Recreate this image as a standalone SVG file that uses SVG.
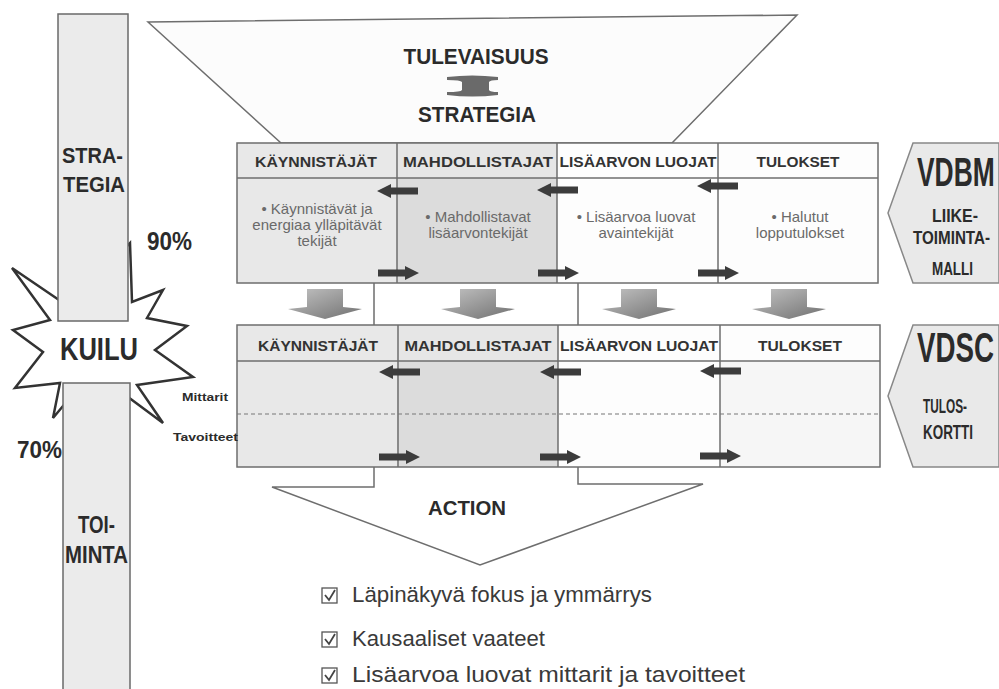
<svg xmlns="http://www.w3.org/2000/svg" width="999" height="689" viewBox="0 0 999 689">
<style>
.b{font-family:"Liberation Sans Narrow","Liberation Sans",Arial,sans-serif;font-weight:bold;fill:#2b2b2b}
.h{font-family:"Liberation Sans",Arial,sans-serif;font-weight:bold;fill:#333;font-size:15px;text-anchor:middle}
.t{font-family:"Liberation Sans",Arial,sans-serif;fill:#6a6a6a;font-size:15px;text-anchor:middle}
.c{font-family:"Liberation Sans",Arial,sans-serif;fill:#3a3a3a;font-size:22px}
.ln{stroke:#6e6e6e;stroke-width:1.5;fill:none}
.ar{fill:#3c3c3c}
.bar{fill:#ebebeb;stroke:#6a6a6a;stroke-width:1.5}
</style>
<defs>
<path id="la" d="M0,0 L14,-7 L14,-3.5 L41,-3.5 L41,3.5 L14,3.5 L14,7 Z"/>
<path id="ra" d="M41,0 L27,-7 L27,-3.5 L0,-3.5 L0,3.5 L27,3.5 L27,7 Z"/>
<linearGradient id="dg" x1="0" y1="0" x2="1" y2="1">
<stop offset="0" stop-color="#c4c4c4"/>
<stop offset="1" stop-color="#6f6f6f"/>
</linearGradient>
<path id="da" d="M-18,0 L18,0 L18,18 L37,20 L0,30 L-37,20 L-18,18 Z"/>
</defs>

<g id="future-funnel">
<polygon points="148,22 797,15 672,143 281,143" fill="#fcfcfc" stroke="#6e6e6e" stroke-width="1.5"/>
<text class="b" x="476" y="64" font-size="22" text-anchor="middle" textLength="145" lengthAdjust="spacingAndGlyphs">TULEVAISUUS</text>
<path d="M447,77 Q472,74 498,77 L498,80 Q490,80 489,82 L489,90 Q490,92 498,92 L498,95 Q472,98 447,95 L447,92 Q461,92 462,90 L462,82 Q461,80 447,80 Z" fill="#6a6a6a"/>
<text class="b" x="477" y="122" font-size="22" text-anchor="middle" textLength="118" lengthAdjust="spacingAndGlyphs">STRATEGIA</text>
</g>

<g id="action-arrow">
<path d="M374,283 L374,487 L272,487 L480,565 L703,484 L578,484 L578,283" fill="#fff" stroke="#6e6e6e" stroke-width="1.5"/>
<text class="b" x="467" y="515" font-size="20" text-anchor="middle" textLength="78" lengthAdjust="spacingAndGlyphs">ACTION</text>
</g>

<g id="kuilu">
<polygon points="12,268 62,302 100,275 130,243 132,302 163,290 147,318 187,326 155,350 193,377 137,385 163,423 128,397 95,440 68,400 53,418 60,383 15,388 43,352 13,330 50,320" fill="#fff" stroke="#333" stroke-width="2.5" stroke-linejoin="miter"/>
</g>

<g id="strategia-bar">
<rect class="bar" x="58" y="14" width="70" height="307"/>
<text class="b" x="62" y="163" font-size="22" textLength="61" lengthAdjust="spacingAndGlyphs">STRA-</text>
<text class="b" x="63" y="192" font-size="22" textLength="62" lengthAdjust="spacingAndGlyphs">TEGIA</text>
</g>

<g id="toiminta-bar">
<rect class="bar" x="63" y="383" width="67" height="310"/>
<text class="b" x="78" y="533" font-size="24" textLength="37" lengthAdjust="spacingAndGlyphs">TOI-</text>
<text class="b" x="65" y="563" font-size="24" textLength="63" lengthAdjust="spacingAndGlyphs">MINTA</text>
</g>

<g id="kuilu-label">
<text class="b" x="60" y="360" font-size="32" textLength="78" lengthAdjust="spacingAndGlyphs">KUILU</text>
<text class="b" x="147" y="250" font-size="26" fill="#3a3a3a" textLength="45" lengthAdjust="spacingAndGlyphs">90%</text>
<text class="b" x="17" y="458" font-size="24" fill="#3a3a3a" textLength="45" lengthAdjust="spacingAndGlyphs">70%</text>
</g>

<g id="vdbm-table">
<rect x="237" y="143" width="160" height="140" fill="#e8e8e8"/>
<rect x="397" y="143" width="160" height="35" fill="#e6e6e6"/>
<rect x="397" y="178" width="160" height="105" fill="#dcdcdc"/>
<rect x="557" y="143" width="321" height="140" fill="#fdfdfd"/>
<rect class="ln" x="237" y="143" width="641" height="140"/>
<line class="ln" x1="237" y1="178" x2="878" y2="178"/>
<line class="ln" x1="397" y1="143" x2="397" y2="283"/>
<line class="ln" x1="557" y1="143" x2="557" y2="283"/>
<line class="ln" x1="718" y1="143" x2="718" y2="283"/>
<text class="h" x="316" y="167" textLength="122" lengthAdjust="spacingAndGlyphs">KÄYNNISTÄJÄT</text>
<text class="h" x="478" y="167" textLength="150" lengthAdjust="spacingAndGlyphs">MAHDOLLISTAJAT</text>
<text class="h" x="638" y="167" textLength="157" lengthAdjust="spacingAndGlyphs">LISÄARVON LUOJAT</text>
<text class="h" x="798" y="167" textLength="83" lengthAdjust="spacingAndGlyphs">TULOKSET</text>
<text class="t" x="317" y="214">• Käynnistävät ja</text>
<text class="t" x="317" y="230">energiaa ylläpitävät</text>
<text class="t" x="317" y="246">tekijät</text>
<text class="t" x="478" y="222">• Mahdollistavat</text>
<text class="t" x="478" y="238">lisäarvontekijät</text>
<text class="t" x="636" y="222">• Lisäarvoa luovat</text>
<text class="t" x="636" y="238">avaintekijät</text>
<text class="t" x="800" y="222">• Halutut</text>
<text class="t" x="800" y="238">lopputulokset</text>
</g>

<g id="vdsc-table">
<rect x="237" y="325" width="160" height="142" fill="#e8e8e8"/>
<rect x="397" y="325" width="161" height="36" fill="#e6e6e6"/>
<rect x="397" y="361" width="161" height="106" fill="#dcdcdc"/>
<rect x="558" y="325" width="322" height="142" fill="#fdfdfd"/>
<rect x="720" y="361" width="160" height="106" fill="#f6f6f6"/>
<rect class="ln" x="237" y="325" width="643" height="142"/>
<line class="ln" x1="237" y1="361" x2="880" y2="361"/>
<line class="ln" x1="398" y1="325" x2="398" y2="467"/>
<line class="ln" x1="558" y1="325" x2="558" y2="467"/>
<line class="ln" x1="720" y1="325" x2="720" y2="467"/>
<line x1="237" y1="414" x2="880" y2="414" stroke="#777" stroke-width="1.2" stroke-dasharray="4 3"/>
<text class="h" x="318" y="351" textLength="120" lengthAdjust="spacingAndGlyphs">KÄYNNISTÄJÄT</text>
<text class="h" x="478" y="351" textLength="147" lengthAdjust="spacingAndGlyphs">MAHDOLLISTAJAT</text>
<text class="h" x="639" y="351" textLength="158" lengthAdjust="spacingAndGlyphs">LISÄARVON LUOJAT</text>
<text class="h" x="800" y="351" textLength="84" lengthAdjust="spacingAndGlyphs">TULOKSET</text>
<text class="b" x="182" y="401" font-size="11" fill="#555" textLength="46" lengthAdjust="spacingAndGlyphs">Mittarit</text>
<text class="b" x="173" y="441" font-size="11" fill="#555" textLength="65" lengthAdjust="spacingAndGlyphs">Tavoitteet</text>
</g>

<g id="connectors">
<g class="ar">
<use href="#la" x="377" y="191"/>
<use href="#la" x="537" y="190"/>
<use href="#la" x="697" y="186"/>
<use href="#ra" x="378" y="273"/>
<use href="#ra" x="538" y="273"/>
<use href="#ra" x="698" y="273"/>
<use href="#la" x="379" y="372"/>
<use href="#la" x="540" y="372"/>
<use href="#la" x="700" y="371"/>
<use href="#ra" x="379" y="457"/>
<use href="#ra" x="540" y="457"/>
<use href="#ra" x="700" y="456"/>
</g>
<g fill="url(#dg)">
<use href="#da" x="325" y="289"/>
<use href="#da" x="478" y="289"/>
<use href="#da" x="639" y="289"/>
<use href="#da" x="789" y="289"/>
</g>
</g>

<g id="vdbm">
<polygon points="999,143 913,143 888,213 913,283 999,283" fill="#e9e9e9" stroke="#888" stroke-width="1.5"/>
<text class="b" transform="translate(917,186) scale(0.66,1)" font-size="40">VDBM</text>
<text class="b" x="955" y="222" font-size="19" text-anchor="middle" textLength="46" lengthAdjust="spacingAndGlyphs">LIIKE-</text>
<text class="b" transform="translate(913,244) scale(0.8,1)" font-size="19">TOIMINTA-</text>
<text class="b" x="932" y="275" font-size="19" textLength="41" lengthAdjust="spacingAndGlyphs">MALLI</text>
</g>

<g id="vdsc">
<polygon points="999,325 913,325 888,396 913,467 999,467" fill="#e9e9e9" stroke="#888" stroke-width="1.5"/>
<text class="b" transform="translate(917,362) scale(0.66,1)" font-size="42">VDSC</text>
<text class="b" x="923" y="413" font-size="20" textLength="44" lengthAdjust="spacingAndGlyphs">TULOS-</text>
<text class="b" x="923" y="439" font-size="20" textLength="50" lengthAdjust="spacingAndGlyphs">KORTTI</text>
</g>

<g id="checklist">
<g fill="#fff" stroke="#555" stroke-width="1.3">
<rect x="322" y="588" width="15" height="15"/>
<rect x="322" y="632" width="15" height="15"/>
<rect x="322" y="668" width="15" height="15"/>
</g>
<g fill="none" stroke="#444" stroke-width="1.8">
<path d="M325,595 L329,600 L335,590"/>
<path d="M325,639 L329,644 L335,634"/>
<path d="M325,675 L329,680 L335,670"/>
</g>
<text class="c" x="352" y="602" textLength="300" lengthAdjust="spacingAndGlyphs">Läpinäkyvä fokus ja ymmärrys</text>
<text class="c" x="352" y="646" textLength="193" lengthAdjust="spacingAndGlyphs">Kausaaliset vaateet</text>
<text class="c" x="352" y="682" textLength="393" lengthAdjust="spacingAndGlyphs">Lisäarvoa luovat mittarit ja tavoitteet</text>
</g>
</svg>
